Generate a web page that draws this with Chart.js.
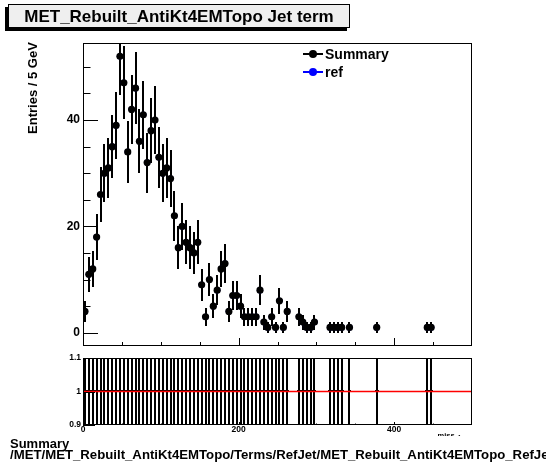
<!DOCTYPE html>
<html>
<head>
<meta charset="utf-8">
<script src="https://cdn.jsdelivr.net/npm/chart.js@4.4.1/dist/chart.umd.min.js"></script>
<style>
  body { margin: 0; width: 546px; height: 462px; background: #fff; position: relative; overflow: hidden;
         font-family: "Liberation Sans", Arial, sans-serif; font-weight: bold; color: #000; }
  canvas { position: absolute; left: 0; }
  #main { top: 0; }
  #ratio { top: 350px; }
  .title { position: absolute; left: 8px; top: 4px; width: 340px; height: 22px; border: 1px solid #000;
           background: #efefef; box-shadow: -3px 3px 0 #000; font-size: 17px; line-height: 23px; text-align: center; }
  .ytitle { position: absolute; left: -27px; top: 80px; width: 120px; height: 16px; font-size: 13px; line-height: 16px;
            text-align: center; transform: rotate(-90deg); }
  .leg-line { position: absolute; left: 303px; width: 20px; height: 2px; }
  .leg-dot { position: absolute; left: 309px; width: 8px; height: 8px; border-radius: 50%; }
  .leg-text { position: absolute; left: 325px; font-size: 14px; line-height: 16px; }
  .note { position: absolute; left: 10px; font-size: 13px; line-height: 13px; white-space: nowrap; }
  .path { font-size: 13.2px; }
  .xtitle { position: absolute; left: 427px; top: 429px; width: 45px; height: 7px; overflow: hidden;
            font-size: 9px; line-height: 14px; white-space: nowrap; }
</style>
</head>
<body>
<canvas id="main" width="546" height="350"></canvas>
<canvas id="ratio" width="546" height="112"></canvas>

<div class="title">MET_Rebuilt_AntiKt4EMTopo Jet term</div>
<div class="ytitle">Entries / 5 GeV</div>

<div class="leg-line" style="top:53px;background:#000"></div>
<div class="leg-dot" style="top:50px;background:#000"></div>
<div class="leg-text" style="top:46px">Summary</div>
<div class="leg-line" style="top:71px;background:#0000ff"></div>
<div class="leg-dot" style="top:68px;background:#0000ff"></div>
<div class="leg-text" style="top:64px">ref</div>

<div class="xtitle">E<sub>T</sub><sup>miss</sup> (GeV)</div>
<div class="note" style="top:437px">Summary</div>
<div class="note path" style="top:448px">/MET/MET_Rebuilt_AntiKt4EMTopo/Terms/RefJet/MET_Rebuilt_AntiKt4EMTopo_RefJet</div>

<script>
// bin centres, 5 GeV bins from 0 to 500
const binCenters = [
  2.5, 7.5, 12.5, 17.5, 22.5, 27.5, 32.5, 37.5, 42.5, 47.5,
  52.5, 57.5, 62.5, 67.5, 72.5, 77.5, 82.5, 87.5, 92.5, 97.5,
  102.5, 107.5, 112.5, 117.5, 122.5, 127.5, 132.5, 137.5, 142.5, 147.5,
  152.5, 157.5, 162.5, 167.5, 172.5, 177.5, 182.5, 187.5, 192.5, 197.5,
  202.5, 207.5, 212.5, 217.5, 222.5, 227.5, 232.5, 237.5, 242.5, 247.5,
  252.5, 257.5, 262.5, 267.5, 272.5, 277.5, 282.5, 287.5, 292.5, 297.5,
  302.5, 307.5, 312.5, 317.5, 322.5, 327.5, 332.5, 337.5, 342.5, 347.5,
  352.5, 357.5, 362.5, 367.5, 372.5, 377.5, 382.5, 387.5, 392.5, 397.5,
  402.5, 407.5, 412.5, 417.5, 422.5, 427.5, 432.5, 437.5, 442.5, 447.5,
  452.5, 457.5, 462.5, 467.5, 472.5, 477.5, 482.5, 487.5, 492.5, 497.5
];

const summaryCounts = [
  4, 11, 12, 18, 26, 30, 31, 35, 39, 52,
  47, 34, 42, 46, 36, 41, 32, 38, 40, 33,
  30, 31, 29, 22, 16, 20, 17, 16, 15, 17,
  9, 3, 10, 5, 8, 12, 13, 4, 7, 7,
  5, 3, 3, 3, 3, 8, 2, 1, 3, 1,
  6, 1, 4, 0, 0, 3, 2, 1, 1, 2,
  0, 0, 0, 1, 1, 1, 1, 0, 1, 0,
  0, 0, 0, 0, 0, 1, 0, 0, 0, 0,
  0, 0, 0, 0, 0, 0, 0, 0, 1, 1,
  0, 0, 0, 0, 0, 0, 0, 0, 0, 0
];

const refCounts = [
  4, 11, 12, 18, 26, 30, 31, 35, 39, 52,
  47, 34, 42, 46, 36, 41, 32, 38, 40, 33,
  30, 31, 29, 22, 16, 20, 17, 16, 15, 17,
  9, 3, 10, 5, 8, 12, 13, 4, 7, 7,
  5, 3, 3, 3, 3, 8, 2, 1, 3, 1,
  6, 1, 4, 0, 0, 3, 2, 1, 1, 2,
  0, 0, 0, 1, 1, 1, 1, 0, 1, 0,
  0, 0, 0, 0, 0, 1, 0, 0, 0, 0,
  0, 0, 0, 0, 0, 0, 0, 0, 1, 1,
  0, 0, 0, 0, 0, 0, 0, 0, 0, 0
];

const xMajorTicks = [0, 200, 400];
const xMinorTicks = [50, 100, 150, 250, 300, 350, 450];
const yMainTicks = [0, 20, 40];
const yMainMinor = [5, 10, 15, 25, 30, 35, 45, 50];
const yRatioTicks = [0.9, 1, 1.1];

Chart.defaults.font.family = '"Liberation Sans", Arial, sans-serif';
Chart.defaults.font.weight = 'bold';
Chart.defaults.color = '#000';

function histPoints(counts) {
  const pts = [];
  counts.forEach((c, i) => {
    if (c > 0) pts.push({ x: binCenters[i], y: c, err: Math.sqrt(c) });
  });
  return pts;
}

function ratioPoints(num, den) {
  const pts = [];
  num.forEach((n, i) => {
    const d = den[i];
    if (n > 0 && d > 0) {
      const r = n / d;
      pts.push({ x: binCenters[i], y: r, err: r * Math.sqrt(1 / n + 1 / d), xerr: 2.5 });
    }
  });
  return pts;
}

// fixed axis box sizes so the plot frame sits where we want it
function fixBox(size) {
  return scale => {
    if (scale.isHorizontal()) scale.height = size; else scale.width = size;
    scale.paddingLeft = scale.paddingRight = scale.paddingTop = scale.paddingBottom = 0;
  };
}

// vertical (and optional horizontal) error bars
const errorBars = {
  id: 'errorBars',
  beforeDatasetsDraw(chart) {
    const { ctx, chartArea: a, scales: { x, y } } = chart;
    ctx.save();
    ctx.beginPath();
    ctx.rect(a.left, a.top, a.right - a.left, a.bottom - a.top);
    ctx.clip();
    for (let d = chart.data.datasets.length - 1; d >= 0; d--) {
      const ds = chart.data.datasets[d];
      if (!ds.errorBars) continue;
      ctx.strokeStyle = ds.borderColor;
      ds.data.forEach(p => {
        const px = Math.round(x.getPixelForValue(p.x));
        const py = Math.round(y.getPixelForValue(p.y));
        ctx.lineWidth = 2;
        ctx.beginPath();
        ctx.moveTo(px, Math.round(y.getPixelForValue(p.y - p.err)));
        ctx.lineTo(px, Math.round(y.getPixelForValue(p.y + p.err)));
        ctx.stroke();
        if (p.xerr) {
          ctx.lineWidth = 1;
          ctx.beginPath();
          ctx.moveTo(Math.round(x.getPixelForValue(p.x - p.xerr)), py - 1.5);
          ctx.lineTo(Math.round(x.getPixelForValue(p.x + p.xerr)), py - 1.5);
          ctx.stroke();
        }
      });
    }
    ctx.restore();
  }
};

// ROOT style frame with ticks pointing inwards
const rootFrame = {
  id: 'rootFrame',
  afterDraw(chart, args, o) {
    const { ctx, chartArea: a, scales: { x, y } } = chart;
    ctx.save();
    ctx.strokeStyle = '#000';
    ctx.lineWidth = 1;
    ctx.beginPath();
    const xt = (vals, len) => vals.forEach(v => {
      const px = Math.round(x.getPixelForValue(v)) + 0.5;
      ctx.moveTo(px, a.bottom); ctx.lineTo(px, a.bottom - len);
    });
    const yt = (vals, len) => vals.forEach(v => {
      const py = Math.round(y.getPixelForValue(v)) + 0.5;
      ctx.moveTo(a.left, py); ctx.lineTo(a.left + len, py);
    });
    xt(o.xMajor, o.xMajorLen); xt(o.xMinor, o.xMinorLen);
    yt(o.yMajor, o.yMajorLen); yt(o.yMinor || [], o.yMinorLen || 0);
    ctx.stroke();
    ctx.strokeRect(Math.round(a.left) + 0.5, Math.round(a.top) + 0.5,
                   Math.round(a.right - a.left) - 1, Math.round(a.bottom - a.top) - 1);
    ctx.restore();
  }
};

new Chart(document.getElementById('main'), {
  type: 'scatter',
  data: {
    datasets: [
      { label: 'Summary', data: histPoints(summaryCounts), errorBars: true,
        backgroundColor: '#000', borderColor: '#000', pointRadius: 3.6, pointBorderWidth: 0, pointHoverRadius: 3.6 },
      { label: 'ref', data: histPoints(refCounts), errorBars: true,
        backgroundColor: '#0000ff', borderColor: '#0000ff', pointRadius: 3.1, pointBorderWidth: 0, pointHoverRadius: 3.1 }
    ]
  },
  options: {
    responsive: false,
    animation: false,
    events: [],
    layout: { padding: { left: 0, right: 74, top: 43, bottom: 4 } },
    plugins: {
      legend: { display: false },
      tooltip: { enabled: false },
      rootFrame: { xMajor: xMajorTicks, xMinor: xMinorTicks, xMajorLen: 8, xMinorLen: 4,
                   yMajor: yMainTicks, yMinor: yMainMinor, yMajorLen: 15, yMinorLen: 7.5 }
    },
    scales: {
      x: {
        type: 'linear', min: 0, max: 500,
        grid: { display: false, drawTicks: false }, border: { display: false },
        ticks: { display: false },
        afterFit: fixBox(0)
      },
      y: {
        type: 'linear', min: -2.5, max: 54.5,
        grid: { display: false, drawTicks: false }, border: { display: false },
        afterBuildTicks: s => { s.ticks = yMainTicks.map(v => ({ value: v })); },
        ticks: { font: { size: 12, weight: 'bold' }, padding: 3, autoSkip: false },
        afterFit: fixBox(83)
      }
    }
  },
  plugins: [errorBars, rootFrame]
});

new Chart(document.getElementById('ratio'), {
  type: 'scatter',
  data: {
    datasets: [
      { type: 'line', label: 'unity', data: [{ x: 0, y: 1 }, { x: 500, y: 1 }],
        borderColor: '#ff0000', borderWidth: 1.5, pointRadius: 0 },
      { label: 'ratio', data: ratioPoints(summaryCounts, refCounts), errorBars: true,
        backgroundColor: '#000', borderColor: '#000', pointRadius: 0 }
    ]
  },
  options: {
    responsive: false,
    animation: false,
    events: [],
    layout: { padding: { left: 0, right: 74, top: 8, bottom: 0 } },
    plugins: {
      legend: { display: false },
      tooltip: { enabled: false },
      rootFrame: { xMajor: xMajorTicks, xMinor: xMinorTicks, xMajorLen: 3, xMinorLen: 1.5,
                   yMajor: yRatioTicks, yMajorLen: 12 }
    },
    scales: {
      x: {
        type: 'linear', min: 0, max: 500,
        grid: { display: false, drawTicks: false }, border: { display: false },
        afterBuildTicks: s => { s.ticks = xMajorTicks.map(v => ({ value: v })); },
        ticks: { font: { size: 8.5, weight: 'bold' }, padding: 0, maxRotation: 0, autoSkip: false },
        afterFit: fixBox(37)
      },
      y: {
        type: 'linear', min: 0.9, max: 1.1,
        grid: { display: false, drawTicks: false }, border: { display: false },
        afterBuildTicks: s => { s.ticks = yRatioTicks.map(v => ({ value: v })); },
        ticks: { font: { size: 8.5, weight: 'bold' }, padding: 2, autoSkip: false,
                 callback: v => String(v) },
        afterFit: fixBox(83)
      }
    }
  },
  plugins: [errorBars, rootFrame]
});
</script>
</body>
</html>
